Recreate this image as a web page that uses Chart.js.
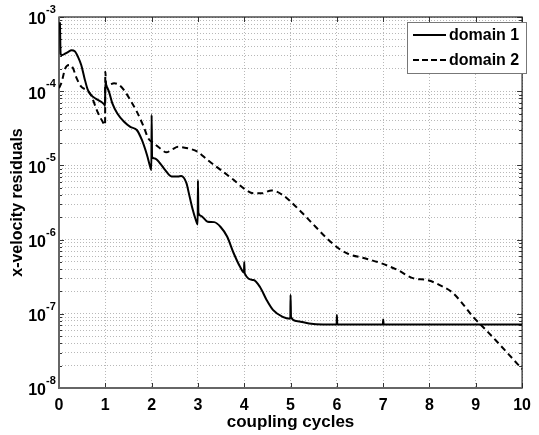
<!DOCTYPE html>
<html>
<head>
<meta charset="utf-8">
<script src="https://cdn.jsdelivr.net/npm/chart.js@4/dist/chart.umd.min.js"></script>
<style>
  html, body { margin: 0; padding: 0; background: #fff; }
  #wrap { width: 539px; height: 435px; position: relative; }
</style>
</head>
<body>
<div id="wrap"><canvas id="residualChart"></canvas></div>
<script>
// domain 1 (solid)
const d1X = [0.02, 0.035, 0.06, 0.13, 0.20, 0.27, 0.34, 0.41, 0.48, 0.55, 0.62, 0.69, 0.80, 0.91, 0.985, 0.995, 1.0, 1.02,
  1.08, 1.15, 1.26, 1.40, 1.54, 1.68, 1.79, 1.90, 1.98, 1.995, 2.0, 2.01, 2.07, 2.18, 2.29, 2.43, 2.57, 2.64, 2.75,
  2.82, 2.89, 2.98, 2.995, 3.0, 3.01, 3.06, 3.21, 3.35, 3.49, 3.63, 3.77, 3.91, 3.995, 4.0, 4.01, 4.20, 4.34, 4.48,
  4.62, 4.83, 4.995, 5.0, 5.01, 5.12, 5.40, 5.70, 5.995, 6.0, 6.01, 6.995, 7.0, 7.01, 10];
const d1Y = [8.5e-4, 3.2e-4, 3.05e-4, 3.2e-4, 3.4e-4, 3.55e-4, 3.45e-4, 2.9e-4, 2.25e-4, 1.5e-4, 1.05e-4, 8.9e-5, 7.9e-5,
  7.2e-5, 6.5e-5, 6.3e-5, 1.3e-4, 1.2e-4, 9.8e-5, 6.9e-5, 5.0e-5, 3.9e-5, 3.3e-5, 3.0e-5, 2.2e-5, 1.38e-5, 9.1e-6,
  8.7e-6, 4.8e-5, 1.3e-5, 1.24e-5, 1.07e-5, 8.7e-6, 7.1e-6, 7.1e-6, 7.2e-6, 5.8e-6, 3.8e-6, 2.5e-6, 1.66e-6, 1.6e-6,
  6.3e-6, 2.3e-6, 2.1e-6, 1.74e-6, 1.72e-6, 1.48e-6, 1.1e-6, 6.6e-7, 4.3e-7, 3.6e-7, 5.0e-7, 3.5e-7, 2.85e-7, 2.3e-7,
  1.55e-7, 1.13e-7, 9.1e-8, 8.6e-8, 1.8e-7, 9.0e-8, 8.0e-8, 7.4e-8, 7.2e-8, 7.2e-8, 9.6e-8, 7.2e-8, 7.2e-8, 8.4e-8,
  7.2e-8, 7.2e-8];

// domain 2 (dashed)
const d2X = [0, 0.06, 0.13, 0.23, 0.30, 0.38, 0.48, 0.59, 0.69, 0.76, 0.83, 0.94, 0.995, 1.0, 1.02, 1.08, 1.19, 1.30,
  1.40, 1.54, 1.68, 1.83, 1.93, 2.04, 2.18, 2.32, 2.45, 2.57, 2.78, 2.99, 3.21, 3.49, 3.77, 3.99, 4.20, 4.37, 4.59,
  4.83, 4.97, 5.26, 5.54, 5.82, 6.04, 6.25, 6.60, 6.96, 7.31, 7.66, 7.95, 8.30, 8.51, 8.73, 8.94, 9.15, 9.43, 9.72, 10];
const d2Y = [1.1e-4, 1.34e-4, 2.0e-4, 2.25e-4, 2.05e-4, 1.5e-4, 1.15e-4, 1.04e-4, 8.9e-5, 6.9e-5, 5.3e-5, 3.9e-5, 3.5e-5,
  1.83e-4, 1.2e-4, 1.21e-4, 1.28e-4, 1.21e-4, 1.04e-4, 7.6e-5, 5.3e-5, 3.3e-5, 2.3e-5, 2.0e-5, 1.7e-5, 1.5e-5, 1.65e-5,
  1.78e-5, 1.7e-5, 1.53e-5, 1.18e-5, 8.7e-6, 6.4e-6, 4.9e-6, 4.2e-6, 4.2e-6, 4.6e-6, 4.0e-6, 3.4e-6, 2.26e-6, 1.49e-6,
  9.9e-7, 7.6e-7, 6.4e-7, 5.6e-7, 4.8e-7, 3.9e-7, 3.0e-7, 2.85e-7, 2.3e-7, 1.9e-7, 1.33e-7, 9.1e-8, 6.7e-8, 4.4e-8,
  2.8e-8, 1.8e-8];

const seriesNames = ['domain 1', 'domain 2'];
const xTicks = [0, 1, 2, 3, 4, 5, 6, 7, 8, 9, 10];
const yExponents = [-8, -7, -6, -5, -4, -3];

const FONT = '"Liberation Sans", Arial, Helvetica, sans-serif';

// every value k*10^e for the log grid (major + minor)
const yGridValues = [];
yExponents.forEach(e => {
    for (let k = 1; k <= 9; k++) {
        if (e === -3 && k > 1) break;
        yGridValues.push(k * Math.pow(10, e));
    }
});

const toPoints = (xs, ys) => xs.map((x, i) => ({ x: x, y: ys[i] }));

const decorPlugin = {
    id: 'decor',
    beforeDatasetsDraw(chart) {
        const ctx = chart.ctx;
        const a = chart.chartArea;
        const xs = chart.scales.x, ys = chart.scales.y;
        ctx.save();

        // inward tick marks
        ctx.strokeStyle = '#333';
        ctx.lineWidth = 1;
        ctx.beginPath();
        xTicks.forEach(t => {
            const px = Math.round(xs.getPixelForValue(t)) + 0.5;
            ctx.moveTo(px, a.bottom); ctx.lineTo(px, a.bottom - 5);
            ctx.moveTo(px, a.top); ctx.lineTo(px, a.top + 5);
        });
        yGridValues.forEach(v => {
            const major = Math.abs(Math.log10(v) - Math.round(Math.log10(v))) < 1e-9;
            const len = major ? 5 : 3;
            const py = Math.round(ys.getPixelForValue(v)) + 0.5;
            ctx.moveTo(a.left, py); ctx.lineTo(a.left + len, py);
            ctx.moveTo(a.right, py); ctx.lineTo(a.right - len, py);
        });
        ctx.stroke();

        // frame
        ctx.strokeStyle = '#222';
        ctx.lineWidth = 1.2;
        ctx.strokeRect(a.left, a.top, a.right - a.left, a.bottom - a.top);
        ctx.strokeStyle = '#666';
        ctx.lineWidth = 2;
        ctx.beginPath();
        ctx.moveTo(a.left, a.top); ctx.lineTo(a.left, a.bottom); ctx.lineTo(a.right, a.bottom);
        ctx.stroke();
        ctx.restore();
    },
    afterDraw(chart) {
        const ctx = chart.ctx;
        const a = chart.chartArea;
        const ys = chart.scales.y;
        ctx.save();

        // y tick labels 10^e
        ctx.fillStyle = '#000';
        ctx.textBaseline = 'middle';
        yExponents.forEach(e => {
            const py = ys.getPixelForValue(Math.pow(10, e));
            ctx.font = 'bold 16px ' + FONT;
            ctx.textAlign = 'right';
            ctx.fillText('10', 46, py + 3);
            ctx.font = 'bold 11px ' + FONT;
            ctx.textAlign = 'left';
            ctx.fillText(String(e), 46, py - 7);
        });

        // axis titles
        ctx.font = 'bold 17px ' + FONT;
        ctx.textAlign = 'center';
        ctx.textBaseline = 'alphabetic';
        ctx.fillText('coupling cycles', (a.left + a.right) / 2, 427);
        ctx.save();
        ctx.translate(22, (a.top + a.bottom) / 2);
        ctx.rotate(-Math.PI / 2);
        ctx.font = 'bold 16px ' + FONT;
        ctx.fillText('x-velocity residuals', 0, 0);
        ctx.restore();

        // legend box
        const lx = 407, ly = 22, lw = 119, lh = 51;
        ctx.fillStyle = '#fff';
        ctx.fillRect(lx, ly, lw, lh);
        ctx.strokeStyle = '#777';
        ctx.lineWidth = 1;
        ctx.strokeRect(lx + 0.5, ly + 0.5, lw, lh);
        const rows = [{ y: 35, dash: [] }, { y: 60, dash: [6, 3] }];
        rows.forEach((r, i) => {
            ctx.strokeStyle = '#000';
            ctx.lineWidth = 2;
            ctx.setLineDash(r.dash);
            ctx.beginPath();
            ctx.moveTo(413, r.y); ctx.lineTo(446, r.y);
            ctx.stroke();
            ctx.setLineDash([]);
            ctx.fillStyle = '#000';
            ctx.font = 'bold 16px ' + FONT;
            ctx.textAlign = 'left';
            ctx.textBaseline = 'middle';
            ctx.fillText(seriesNames[i], 449, r.y + 1);
        });
        ctx.restore();
    }
};

const ctx = document.getElementById('residualChart').getContext('2d');
new Chart(ctx, {
    type: 'line',
    data: {
        datasets: [{
            label: seriesNames[0],
            data: toPoints(d1X, d1Y),
            borderColor: '#000',
            borderWidth: 2,
            pointRadius: 0,
            cubicInterpolationMode: 'monotone',
            fill: false
        }, {
            label: seriesNames[1],
            data: toPoints(d2X, d2Y),
            borderColor: '#000',
            borderWidth: 2,
            borderDash: [6, 4],
            pointRadius: 0,
            cubicInterpolationMode: 'monotone',
            fill: false
        }]
    },
    options: {
        responsive: true,
        maintainAspectRatio: false,
        animation: false,
        layout: { padding: { top: 17, right: 9, left: 0, bottom: 0 } },
        plugins: {
            legend: { display: false },
            tooltip: { enabled: false }
        },
        scales: {
            x: {
                type: 'linear',
                min: 0,
                max: 10,
                afterBuildTicks: s => { s.ticks = xTicks.map(v => ({ value: v })); },
                afterFit: s => { s.height = 47; },
                ticks: {
                    color: '#000',
                    padding: 8,
                    maxRotation: 0,
                    font: { family: FONT, size: 16, weight: 'bold' }
                },
                grid: { color: '#b8b8b8', lineWidth: 1, drawTicks: false },
                border: { display: false, dash: [1, 2] }
            },
            y: {
                type: 'logarithmic',
                min: 1e-8,
                max: 1e-3,
                afterBuildTicks: s => { s.ticks = yGridValues.map(v => ({ value: v })); },
                afterFit: s => { s.width = 59; },
                ticks: { display: false },
                grid: { color: '#b8b8b8', lineWidth: 1, drawTicks: false },
                border: { display: false, dash: [1, 2] }
            }
        }
    },
    plugins: [decorPlugin]
});
</script>
</body>
</html>
